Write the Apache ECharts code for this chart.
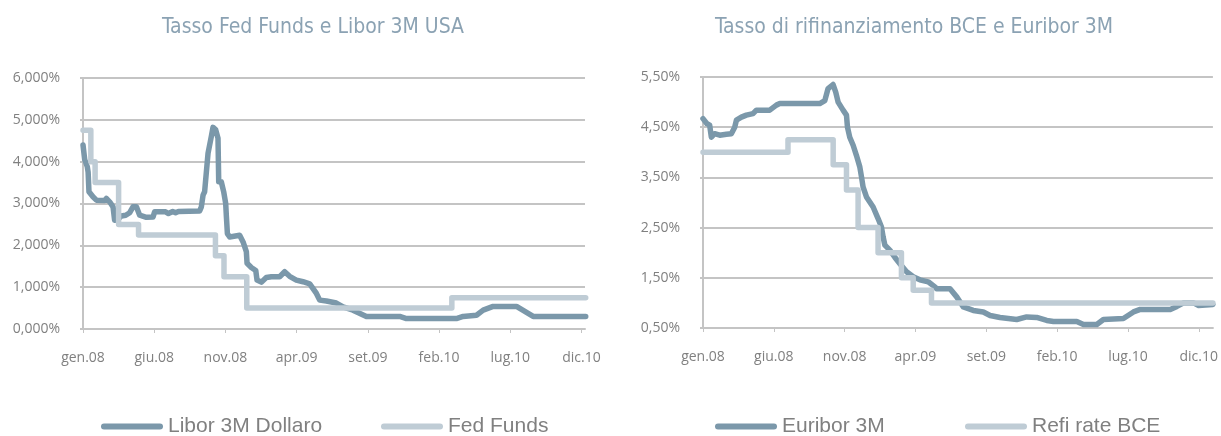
<!DOCTYPE html>
<html><head><meta charset="utf-8">
<script src="https://cdn.jsdelivr.net/npm/echarts@6/dist/echarts.min.js"></script>
<style>html,body{margin:0;padding:0;background:#fff}#c{width:1221px;height:436px}</style>
</head><body><div id="c"></div>
<script>
// x positions are months since January 2008
const xTickMonths = [0, 5, 10, 15, 20, 25, 30, 35];
const xTickLabels = ['gen.08', 'giu.08', 'nov.08', 'apr.09', 'set.09', 'feb.10', 'lug.10', 'dic.10'];

const titleUS = 'Tasso Fed Funds e Libor 3M USA';
const titleEU = 'Tasso di rifinanziamento BCE e Euribor 3M';

const liborMonths = [0, 0.12, 0.3, 0.36, 0.42, 0.7, 0.94, 1.52, 1.64, 1.87, 2.11, 2.22, 2.45, 2.69, 3.0, 3.28, 3.51, 3.75, 3.98, 4.45, 4.92, 5.03, 5.8, 6.0, 6.3, 6.5, 6.7, 8.19, 8.31, 8.43, 8.54, 8.78, 9.01, 9.13, 9.32, 9.48, 9.53, 9.71, 9.88, 10.02, 10.07, 10.14, 10.3, 11.0, 11.24, 11.47, 11.52, 11.82, 12.13, 12.22, 12.52, 12.87, 13.23, 13.81, 14.16, 14.51, 14.98, 15.45, 15.92, 16.39, 16.62, 17.09, 17.79, 18.26, 18.96, 19.9, 22.24, 22.71, 26.22, 26.69, 27.63, 28.1, 28.8, 30.44, 31.61, 35.3];
const liborValues = [4.40, 4.05, 3.88, 3.75, 3.28, 3.16, 3.08, 3.07, 3.12, 3.04, 2.92, 2.60, 2.62, 2.70, 2.72, 2.78, 2.92, 2.92, 2.72, 2.67, 2.68, 2.80, 2.80, 2.76, 2.81, 2.78, 2.81, 2.82, 2.92, 3.20, 3.28, 4.20, 4.60, 4.82, 4.76, 4.56, 3.52, 3.52, 3.28, 3.00, 2.68, 2.28, 2.20, 2.24, 2.08, 1.85, 1.57, 1.47, 1.40, 1.17, 1.12, 1.23, 1.25, 1.25, 1.37, 1.26, 1.17, 1.13, 1.08, 0.85, 0.69, 0.67, 0.62, 0.53, 0.45, 0.30, 0.30, 0.25, 0.25, 0.30, 0.33, 0.45, 0.54, 0.54, 0.30, 0.30];

const fedMonths = [0, 0.55, 0.85, 2.5, 3.9, 9.3, 9.9, 11.5, 25.9, 35.3];
const fedValues = [4.75, 4.00, 3.50, 2.50, 2.25, 1.75, 1.25, 0.50, 0.75, 0.75];

const euriborMonths = [0, 0.28, 0.47, 0.59, 0.82, 1.18, 1.65, 2.0, 2.24, 2.36, 2.71, 3.06, 3.53, 3.77, 4.71, 5.18, 5.42, 8.24, 8.6, 8.83, 9.18, 9.37, 9.54, 9.89, 10.13, 10.2, 10.36, 10.6, 10.83, 11.07, 11.19, 11.3, 11.54, 12.01, 12.36, 12.6, 12.72, 12.84, 13.19, 13.54, 13.9, 14.37, 14.84, 15.31, 15.9, 16.37, 16.49, 17.44, 17.91, 18.38, 19.08, 19.79, 20.27, 20.97, 22.15, 22.85, 23.56, 24.27, 24.74, 26.39, 26.86, 27.8, 28.27, 29.68, 30.39, 30.87, 32.99, 33.46, 33.93, 34.63, 34.99, 36.0];
const euriborValues = [4.67, 4.57, 4.54, 4.30, 4.37, 4.34, 4.36, 4.37, 4.50, 4.64, 4.70, 4.74, 4.77, 4.84, 4.84, 4.94, 4.97, 4.97, 5.03, 5.27, 5.35, 5.20, 5.00, 4.84, 4.74, 4.50, 4.30, 4.14, 3.94, 3.71, 3.51, 3.31, 3.11, 2.91, 2.68, 2.51, 2.31, 2.15, 2.05, 1.91, 1.78, 1.62, 1.52, 1.46, 1.42, 1.32, 1.28, 1.28, 1.12, 0.92, 0.85, 0.82, 0.75, 0.71, 0.67, 0.72, 0.71, 0.65, 0.63, 0.63, 0.57, 0.57, 0.67, 0.69, 0.82, 0.87, 0.87, 0.93, 1.00, 1.00, 0.95, 0.97];

const refiMonths = [0, 6.0, 9.19, 10.13, 10.95, 12.36, 14.01, 14.84, 16.13, 36.0];
const refiValues = [4.00, 4.25, 3.75, 3.25, 2.50, 2.00, 1.50, 1.25, 1.00, 1.00];

const EU_BASE = 0.5; // lowest value on the BCE chart's y axis

const DARK = '#7b98aa', LIGHT = '#bfccd5', GRID = '#c4c4c4', TXT = '#808080', TITLE = '#8ba2b3';
const pairs = (xs, ys, base) => xs.map((x, i) => [x, +(ys[i] - (base || 0)).toFixed(4)]);
const capsule = 'path://M3,0 L59,0 A3,3 0 0 1 59,6 L3,6 A3,3 0 0 1 3,0 Z';
const axisFont = { fontFamily: 'Open Sans', fontSize: 14, color: TXT };
const titleFont = { fontFamily: '"DejaVu Sans Condensed", "Liberation Sans", sans-serif', fontSize: 21, fontWeight: 'normal', color: TITLE };

function xAxis(gridIndex, max) {
  return {
    type: 'value', gridIndex, min: 0, max,
    axisLine: { lineStyle: { color: GRID, width: 2 } },
    axisTick: { show: true, length: 4, customValues: xTickMonths, lineStyle: { color: GRID, width: 1 } },
    axisLabel: Object.assign({ customValues: xTickMonths, margin: 22,
      formatter: v => { const i = xTickMonths.indexOf(v); return i < 0 ? '' : xTickLabels[i]; } }, axisFont),
    splitLine: { show: false }
  };
}
function yAxis(gridIndex, max, fmt) {
  return {
    type: 'value', gridIndex, min: 0, max, interval: 1,
    axisLine: { show: true, lineStyle: { color: GRID, width: 2 } },
    axisTick: { show: true, length: 3, lineStyle: { color: GRID, width: 2 } },
    axisLabel: Object.assign({ margin: 23, formatter: fmt }, axisFont),
    splitLine: { show: true, lineStyle: { color: GRID, width: 2 } }
  };
}
function lineSeries(name, xi, data, color, step) {
  return {
    name, type: 'line', xAxisIndex: xi, yAxisIndex: xi, data, step: step || false,
    showSymbol: false, symbol: 'none', color, animation: false,
    lineStyle: { color, width: 5.5, cap: 'round', join: 'round' }
  };
}
function legend(name, left) {
  return {
    data: [name], left, top: 416, padding: 0, itemWidth: 62, itemHeight: 6, icon: capsule,
    textStyle: { fontFamily: 'Liberation Sans', fontSize: 21, color: TXT }
  };
}

const chart = echarts.init(document.getElementById('c'), null, { renderer: 'canvas' });
chart.setOption({
  backgroundColor: '#fff',
  animation: false,
  title: [
    { text: titleUS, left: 313, top: 17, padding: 0, textAlign: 'center', textStyle: titleFont },
    { text: titleEU, left: 914, top: 17, padding: 0, textAlign: 'center', textStyle: titleFont }
  ],
  legend: [legend('Libor 3M Dollaro', 101), legend('Fed Funds', 381), legend('Euribor 3M', 715), legend('Refi rate BCE', 965)],
  grid: [
    { left: 83, right: 636, top: 78, bottom: 107 },
    { left: 703, right: 8, top: 77, bottom: 108 }
  ],
  xAxis: [xAxis(0, 35.25), xAxis(1, 36)],
  yAxis: [
    yAxis(0, 6, v => v.toFixed(3).replace('.', ',') + '%'),
    yAxis(1, 5, v => (v + EU_BASE).toFixed(2).replace('.', ',') + '%')
  ],
  series: [
    lineSeries('Libor 3M Dollaro', 0, pairs(liborMonths, liborValues), DARK),
    lineSeries('Fed Funds', 0, pairs(fedMonths, fedValues), LIGHT, 'end'),
    lineSeries('Euribor 3M', 1, pairs(euriborMonths, euriborValues, EU_BASE), DARK),
    lineSeries('Refi rate BCE', 1, pairs(refiMonths, refiValues, EU_BASE), LIGHT, 'end')
  ]
});
</script></body></html>
